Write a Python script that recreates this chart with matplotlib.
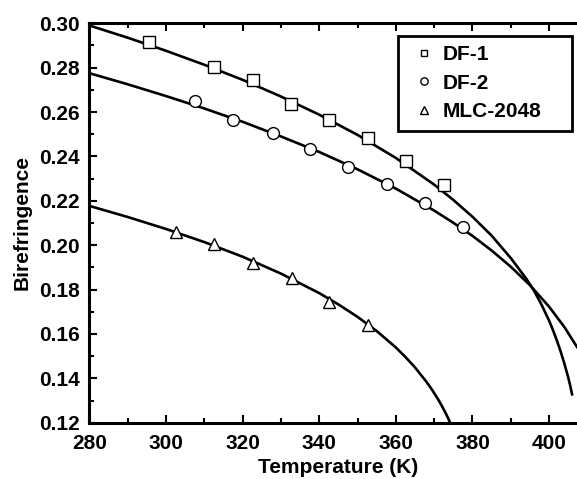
import numpy as np
import matplotlib
matplotlib.use('Agg')
import matplotlib.pyplot as plt
from matplotlib.ticker import MultipleLocator

plt.rcParams['font.family'] = ['Liberation Sans', 'DejaVu Sans']
plt.rcParams['font.weight'] = 'bold'

# measured points
t_df1 = [295.5, 312.6, 322.6, 332.6, 342.6, 352.6, 362.6, 372.6]
n_df1 = [0.2917, 0.2804, 0.2743, 0.2636, 0.2564, 0.2482, 0.2381, 0.2271]
t_df2 = [307.6, 317.6, 327.8, 337.6, 347.6, 357.6, 367.6, 377.6]
n_df2 = [0.2650, 0.2564, 0.2504, 0.2432, 0.2354, 0.2276, 0.2191, 0.2083]
t_mlc = [302.5, 312.6, 322.6, 332.8, 342.6, 352.6]
n_mlc = [0.2061, 0.2005, 0.1918, 0.1851, 0.1745, 0.1640]

# fitted curves
tf_df1 = [280, 290, 300, 310, 320, 330, 340, 350, 360, 370, 375, 380, 385,
          390, 394, 396, 398, 400, 401, 402, 403, 404, 405, 405.5, 406]
nf_df1 = [0.2990, 0.2935, 0.2876, 0.2813, 0.2745, 0.2670, 0.2588, 0.2497,
          0.2393, 0.2273, 0.2204, 0.2128, 0.2043, 0.1942, 0.1850, 0.1797,
          0.1733, 0.1660, 0.1618, 0.1572, 0.1522, 0.1466, 0.1404, 0.1368,
          0.1328]
tf_df2 = [280, 290, 300, 310, 320, 330, 340, 350, 360, 370, 375, 380, 385,
          390, 395, 400, 404, 407.3]
nf_df2 = [0.2775, 0.2725, 0.2672, 0.2616, 0.2556, 0.2490, 0.2420, 0.2342,
          0.2255, 0.2156, 0.2101, 0.2042, 0.1976, 0.1903, 0.1820, 0.1723,
          0.1631, 0.1541]
tf_mlc = [280, 290, 300, 310, 320, 330, 340, 345, 350, 355, 360, 362.5, 365,
          368, 369.5, 371, 372, 373, 373.6, 374.1]
nf_mlc = [0.2177, 0.2127, 0.2073, 0.2014, 0.1948, 0.1872, 0.1784, 0.1733,
          0.1677, 0.1613, 0.1539, 0.1496, 0.1449, 0.1384, 0.1347, 0.1306,
          0.1276, 0.1243, 0.1222, 0.1203]

fig = plt.figure(figsize=(5.77, 4.79), dpi=100)
ax = fig.add_axes([0.155, 0.1175, 0.863, 0.8339])

lw = 1.9
ax.plot(tf_df1, nf_df1, color='black', linewidth=lw)
ax.plot(tf_df2, nf_df2, color='black', linewidth=lw)
ax.plot(tf_mlc, nf_mlc, color='black', linewidth=lw)

ax.plot(t_df1, n_df1, 's', ms=8, mfc='white', mec='black', mew=1.0, label='DF-1')
ax.plot(t_df2, n_df2, 'o', ms=8.5, mfc='white', mec='black', mew=1.0, label='DF-2')
ax.plot(t_mlc, n_mlc, '^', ms=9, mfc='white', mec='black', mew=1.0, label='MLC-2048')

ax.set_xlim(280, 410)
ax.set_ylim(0.12, 0.30)
ax.xaxis.set_minor_locator(MultipleLocator(10))
ax.yaxis.set_minor_locator(MultipleLocator(0.01))
ax.set_xticks([280, 300, 320, 340, 360, 380, 400])
ax.set_xticklabels(['280', '300', '320', '340', '360', '380', '400'])
ax.set_yticks([0.12, 0.14, 0.16, 0.18, 0.20, 0.22, 0.24, 0.26, 0.28, 0.30])
ax.set_yticklabels(['0.12', '0.14', '0.16', '0.18', '0.20', '0.22', '0.24',
                    '0.26', '0.28', '0.30'])

ax.tick_params(which='both', direction='in', top=True, right=False,
               width=1.5, labelsize=15)
ax.tick_params(axis='x', pad=8)
ax.tick_params(axis='y', pad=7)
ax.tick_params(which='major', length=6)
ax.tick_params(which='minor', length=3.5)
for s in ax.spines.values():
    s.set_linewidth(2.2)

ax.set_xlabel('Temperature (K)', fontsize=15, fontweight='bold', labelpad=4)
ax.set_ylabel('Birefringence', fontsize=15, fontweight='bold', labelpad=5)

leg = ax.legend(loc='upper left',
                bbox_to_anchor=(398 / 577, 1 - 131 / 479, 174 / 577, 95 / 479),
                bbox_transform=fig.transFigure, borderaxespad=0, mode='expand',
                markerscale=0.62, fancybox=False, edgecolor='black',
                prop={'size': 15, 'weight': 'bold'}, handletextpad=0.1,
                labelspacing=0.45, borderpad=0.45, handlelength=1.6)
leg.get_frame().set_linewidth(2.0)
leg.get_frame().set_alpha(1)

fig.savefig('out.png', dpi=100)
